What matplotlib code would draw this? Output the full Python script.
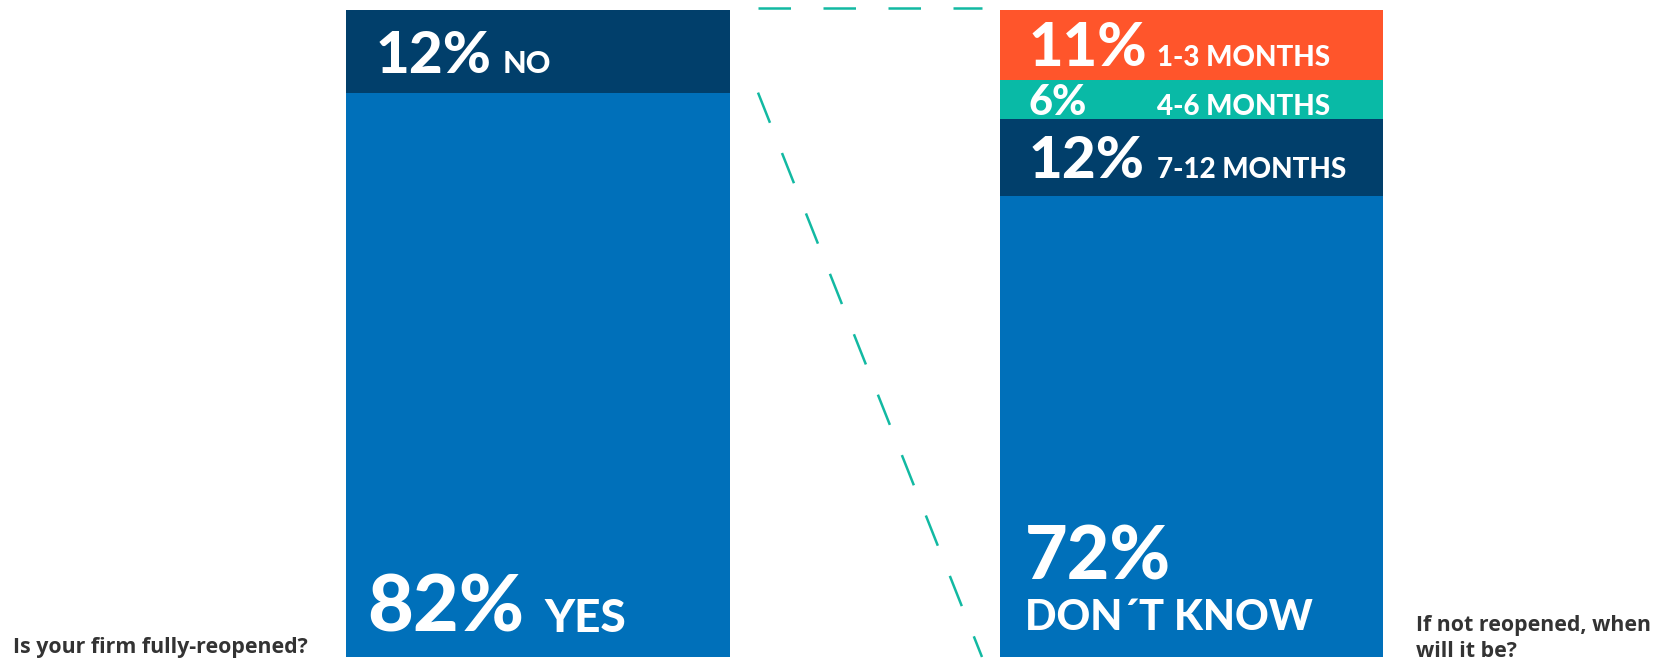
import matplotlib.pyplot as plt
from matplotlib.lines import Line2D
from matplotlib.transforms import blended_transform_factory

# survey answers, stacked from the bottom up
reopen_pcts = [82, 12]
reopen_labels = ["YES", "NO"]
reopen_colors = ["#0070BA", "#013F6B"]

when_pcts = [72, 12, 6, 11]
when_labels = ["DON\u00B4T KNOW", "7-12 MONTHS", "4-6 MONTHS", "1-3 MONTHS"]
when_colors = ["#0070BA", "#013F6B", "#09BAA6", "#FF552B"]

W, H = 1670, 660
fig = plt.figure(figsize=(W / 100, H / 100), dpi=100)
fig.patch.set_facecolor("white")

HEAVY = dict(family=["Lato", "DejaVu Sans"], weight=900, color="white")


def px_rect(x0, y0, x1, y1):
    return [x0 / W, 1 - y1 / H, (x1 - x0) / W, (y1 - y0) / H]


def stacked_bar(ax, values, colors):
    bottom = 0
    tops = []
    for v, c in zip(values, colors):
        ax.bar(0, v, bottom=bottom, width=1.0, color=c, linewidth=0)
        bottom += v
        tops.append(bottom)
    ax.set_xlim(-0.5, 0.5)
    ax.set_ylim(0, bottom)
    ax.axis("off")
    return tops


def label(ax, text, xfrac, y, pad_px, size):
    tr = blended_transform_factory(ax.transAxes, ax.transData)
    ax.annotate(text, xy=(xfrac, y), xycoords=tr,
                xytext=(0, pad_px * 0.72), textcoords="offset points",
                ha="left", va="baseline", fontsize=size, **HEAVY)


ax_l = fig.add_axes(px_rect(346, 10, 730, 657))
ax_r = fig.add_axes(px_rect(1000, 10, 1383, 657))

l_tops = stacked_bar(ax_l, reopen_pcts, reopen_colors)
r_tops = stacked_bar(ax_r, when_pcts, when_colors)

# left bar text
label(ax_l, f"{reopen_pcts[0]}%", 0.055, 0, 25, 57)
label(ax_l, reopen_labels[0], 0.518, 0, 25, 33)
label(ax_l, f"{reopen_pcts[1]}%", 0.078, l_tops[0], 20, 42)
label(ax_l, reopen_labels[1], 0.409, l_tops[0], 20, 22)

# right bar text
label(ax_r, f"{when_pcts[0]}%", 0.065, 0, 77, 53)
label(ax_r, when_labels[0], 0.065, 0, 27, 30)
seg_style = {1: (18, 42), 2: (4, 30), 3: (14, 43)}
for i in (1, 2, 3):
    pad, size = seg_style[i]
    label(ax_r, f"{when_pcts[i]}%", 0.075, r_tops[i - 1], pad, size)
    label(ax_r, when_labels[i], 0.41, r_tops[i - 1], pad, 20)

# dashed connectors from the NO slice over to the breakdown bar
to_fig = fig.transFigure.inverted()
lx, ly_top = ax_l.transData.transform((0.5, l_tops[-1]))
_, ly_split = ax_l.transData.transform((0.5, l_tops[0]))
rx, ry_top = ax_r.transData.transform((-0.5, r_tops[-1]))
_, ry_bot = ax_r.transData.transform((-0.5, 0))
x0, x1 = lx + 28, rx - 18
for (ya, yb) in [(ly_top + 2, ry_top + 2), (ly_split, ry_bot)]:
    (fa, ga), (fb, gb) = to_fig.transform([(x0, ya), (x1, yb)])
    fig.add_artist(Line2D([fa, fb], [ga, gb], transform=fig.transFigure,
                          color="#12B9A2", lw=1.8, linestyle=(0, (13, 13))))

# question captions
QFONT = dict(family=["Open Sans", "DejaVu Sans"], weight="bold",
             color="#333333", fontsize=15.4, va="baseline", ha="left")
fig.text(13 / W, 1 - 653 / H, "Is your firm fully-reopened?", **QFONT)
fig.text(1416 / W, 1 - 631 / H, "If not reopened, when", **QFONT)
fig.text(1416 / W, 1 - 657 / H, "will it be?", **QFONT)

fig.savefig("out.png", dpi=100, facecolor="white")
